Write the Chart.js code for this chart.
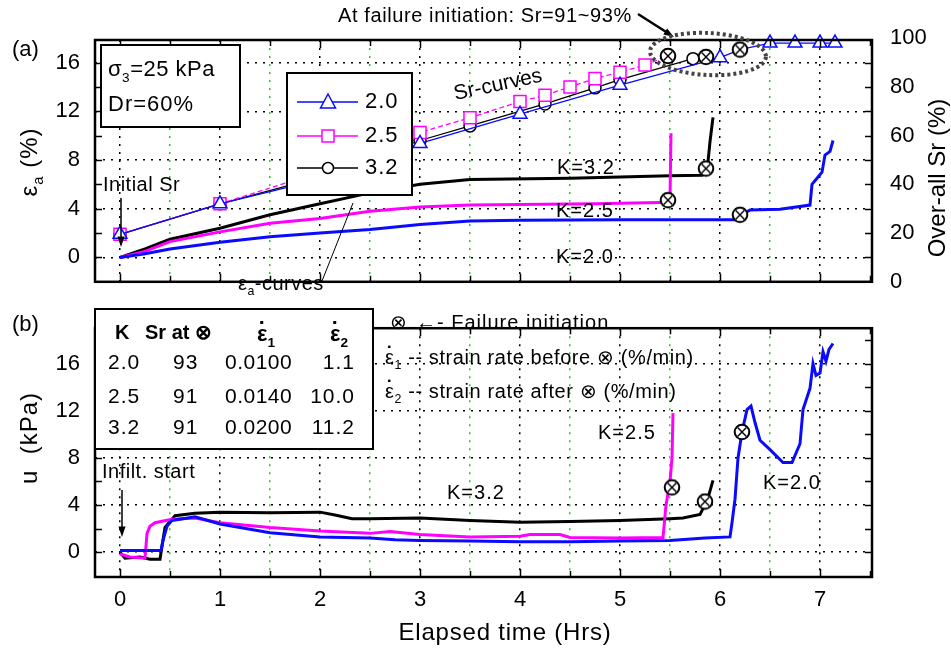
<!DOCTYPE html>
<html>
<head>
<meta charset="utf-8">
<script src="https://cdn.jsdelivr.net/npm/chart.js@4.4.1/dist/chart.umd.min.js"></script>
<style>
  html, body { margin: 0; padding: 0; background: #fff; }
  #wrap { position: relative; width: 951px; height: 653px; }
  #cb { position: absolute; left: 0; top: 300px; }
  #ca { position: absolute; left: 0; top: 0; }
</style>
</head>
<body>
<div id="wrap">
  <canvas id="cb" width="951" height="353"></canvas>
  <canvas id="ca" width="951" height="310"></canvas>
</div>
<script>
// ---- data (time in hrs) ----
const kLabels = ["2.0", "2.5", "3.2"];

// Sr curves (right axis, %)
const srT_20 = [0, 1, 2, 3, 4, 5, 6, 6.2, 6.5, 6.75, 7.0, 7.15];
const sr_20  = [19.5, 32, 42, 56.8, 68.8, 80.7, 92, 95.3, 98, 98, 98, 98];
const srT_25 = [0, 1, 2, 3, 3.5, 4, 4.25, 4.5, 4.75, 5, 5.25, 5.48, 5.53];
const sr_25  = [19.5, 32, 45, 61.3, 67.3, 74, 76.6, 80, 83.4, 86, 89, 92.7, 94.5];
const srT_32 = [0, 1, 2, 3, 3.5, 4.25, 4.75, 5, 5.73, 5.86];
const sr_32  = [19.5, 32, 43, 58, 64, 73, 79.6, 83, 91.6, 92.3];

// axial strain curves (left axis, %)
const epsT_20 = [0, 0.25, 0.5, 1, 1.5, 2, 2.5, 3, 3.5, 4, 5, 6, 6.18, 6.22, 6.3, 6.6, 6.9, 6.92, 6.97, 7.02, 7.05, 7.1, 7.13];
const eps_20  = [0, 0.3, 0.7, 1.25, 1.7, 2.0, 2.3, 2.7, 3.0, 3.05, 3.1, 3.1, 3.1, 3.5, 3.9, 3.95, 4.3, 6.0, 6.5, 7.0, 8.4, 8.7, 9.6];
const epsT_25 = [0, 0.25, 0.5, 1, 1.5, 2, 2.5, 3, 3.5, 4, 4.75, 5.4, 5.47, 5.5, 5.51];
const eps_25  = [0, 0.5, 1.3, 2.1, 2.8, 3.2, 3.8, 4.15, 4.3, 4.35, 4.4, 4.5, 4.6, 4.8, 10.2];
const epsT_32 = [0, 0.25, 0.5, 1, 1.5, 2, 2.5, 3, 3.5, 4.5, 5, 5.5, 5.82, 5.87, 5.9, 5.93];
const eps_32  = [0, 0.7, 1.5, 2.4, 3.5, 4.4, 5.3, 6.0, 6.4, 6.5, 6.6, 6.7, 6.75, 7.0, 9.5, 11.5];

// pore pressure u (kPa)
const uT_20 = [0, 0.41, 0.43, 0.47, 0.52, 0.6, 0.75, 1.0, 1.5, 2.0, 2.5, 2.75, 3.0, 3.5, 4.0, 4.5, 5.0, 5.5, 5.85, 6.1,
               6.12, 6.15, 6.18, 6.22, 6.27, 6.31, 6.35, 6.4, 6.5, 6.63, 6.72, 6.8, 6.83, 6.9, 6.93, 6.96, 7.0, 7.03, 7.06, 7.09, 7.13];
const u_20  = [0.15, 0.15, 1.0, 2.2, 2.7, 2.8, 3.0, 2.4, 1.65, 1.3, 1.2, 1.05, 1.0, 0.95, 0.9, 0.9, 0.95, 1.0, 1.2, 1.3,
               2.5, 4.5, 8.0, 10.2, 12.1, 12.4, 11.0, 9.5, 8.7, 7.6, 7.6, 9.2, 12.1, 13.9, 16.0, 15.0, 15.2, 17.0, 16.2, 17.2, 17.7];
const uT_25 = [0, 0.1, 0.25, 0.27, 0.3, 0.35, 0.52, 0.75, 1.0, 1.5, 2.0, 2.5, 2.7, 3.0, 3.5, 4.0, 4.1, 4.4, 4.5, 5.0, 5.43, 5.46, 5.5, 5.52, 5.53];
const u_25  = [-0.15, -0.4, -0.5, 1.6, 2.2, 2.5, 2.8, 2.9, 2.5, 2.1, 1.8, 1.6, 1.75, 1.5, 1.3, 1.35, 1.5, 1.5, 1.25, 1.2, 1.25, 4.0, 6.0, 8.0, 11.8];
const uT_32 = [0, 0.05, 0.2, 0.3, 0.4, 0.42, 0.45, 0.55, 0.75, 1.0, 1.5, 2.0, 2.15, 2.32, 2.5, 3.0, 3.5, 4.0, 4.5, 5.0, 5.5, 5.63, 5.8, 5.83, 5.87, 5.93];
const u_32  = [0, -0.5, -0.4, -0.6, -0.6, 0.5, 2.1, 3.1, 3.3, 3.4, 3.35, 3.4, 3.15, 2.85, 2.85, 2.9, 2.7, 2.55, 2.6, 2.7, 2.85, 2.9, 3.2, 3.7, 4.3, 6.1];

// failure initiation points (K = 2.0, 2.5, 3.2)
const failT_a = [6.2, 5.48, 5.86];
const failSr  = [95.3, 92.7, 92.3];
const failEps = [3.5, 4.7, 7.3];
const failT_u = [6.22, 5.52, 5.85];
const failU   = [10.2, 5.5, 4.3];

// table in panel (b)
const srAtFail   = ["93", "91", "91"];
const rateBefore = ["0.0100", "0.0140", "0.0200"];
const rateAfter  = ["1.1", "10.0", "11.2"];

// ticks
const timeTicks = [0, 0.5, 1, 1.5, 2, 2.5, 3, 3.5, 4, 4.5, 5, 5.5, 6, 6.5, 7, 7.5];
const epsTicks = [0, 4, 8, 12, 16];
const srTicks = [0, 20, 40, 60, 80, 100];
const uTicks = [0, 4, 8, 12, 16];
const epsMinor = [0, 2, 4, 6, 8, 10, 12, 14, 16];
const uMinor = [0, 2, 4, 6, 8, 10, 12, 14, 16, 18];

// ---- helpers ----
const FONT = '"Liberation Sans", Arial, sans-serif';
const BLUE = "#0a0aff", MAG = "#ff00ff", BLK = "#000000";
const colors = [BLUE, MAG, BLK];
const pts = (xs, ys) => xs.map((x, i) => ({ x: x, y: ys[i] }));
const setTicks = vals => s => { s.ticks = vals.map(v => ({ value: v })); };
const gridColor = v => (v > 7.4 ? "rgba(0,0,0,0)" : Number.isInteger(v) ? "#000" : "#1ed01e");

function failMark() {
  const c = document.createElement("canvas");
  c.width = c.height = 18;
  const g = c.getContext("2d");
  g.beginPath(); g.arc(9, 9, 7.3, 0, Math.PI * 2);
  g.fillStyle = "#fff"; g.fill();
  g.lineWidth = 2; g.strokeStyle = "#000"; g.stroke();
  g.beginPath();
  g.moveTo(4.6, 4.6); g.lineTo(13.4, 13.4);
  g.moveTo(13.4, 4.6); g.lineTo(4.6, 13.4);
  g.lineWidth = 1.4; g.stroke();
  return c;
}
const failImg = failMark();

// parts: [text, kind] with kind undefined | "sub" | "dot" (dot above the glyph)
function rich(ctx, parts, x, y, size, o = {}) {
  ctx.save();
  ctx.translate(x, y);
  if (o.rot) ctx.rotate(o.rot);
  ctx.letterSpacing = (o.ls ?? 0) + "px";
  const f = k => (o.bold ? "bold " : "") + (k === "sub" ? size * 0.62 : size) + "px " + FONT;
  let w = 0;
  const ws = parts.map(([t, k]) => { ctx.font = f(k); const m = ctx.measureText(t).width; w += m; return m; });
  let cx = o.align === "center" ? -w / 2 : o.align === "right" ? -w : 0;
  ctx.textBaseline = "middle";
  ctx.fillStyle = o.color || "#000";
  parts.forEach(([t, k], i) => {
    ctx.font = f(k);
    ctx.fillText(t, cx, k === "sub" ? size * 0.38 : 0);
    if (k === "dot") {
      const d = o.bold ? 3 : 2.4;
      ctx.fillRect(cx + ws[i] / 2 - d / 2 - 0.5, -size * 0.5 - d, d, d);
    }
    cx += ws[i];
  });
  ctx.restore();
}
const txt = (ctx, s, x, y, size, o = {}) => rich(ctx, [[s]], x, y, size, o);

function arrow(ctx, x1, y1, x2, y2, head = 10, w = 1.5) {
  const a = Math.atan2(y2 - y1, x2 - x1);
  ctx.save();
  ctx.strokeStyle = ctx.fillStyle = "#000";
  ctx.lineWidth = w;
  ctx.beginPath(); ctx.moveTo(x1, y1);
  ctx.lineTo(x2 - head * 0.8 * Math.cos(a), y2 - head * 0.8 * Math.sin(a)); ctx.stroke();
  ctx.beginPath(); ctx.moveTo(x2, y2);
  ctx.lineTo(x2 - head * Math.cos(a - 0.33), y2 - head * Math.sin(a - 0.33));
  ctx.lineTo(x2 - head * Math.cos(a + 0.33), y2 - head * Math.sin(a + 0.33));
  ctx.closePath(); ctx.fill();
  ctx.restore();
}

function box(ctx, x1, y1, x2, y2) {
  ctx.save();
  ctx.fillStyle = "#fff"; ctx.fillRect(x1, y1, x2 - x1, y2 - y1);
  ctx.strokeStyle = "#000"; ctx.lineWidth = 2; ctx.strokeRect(x1, y1, x2 - x1, y2 - y1);
  ctx.restore();
}

function drawFrame(chart, yId, minor) {
  const { ctx, chartArea: a } = chart;
  const xs = chart.scales.x, ys = chart.scales[yId];
  ctx.save();
  ctx.strokeStyle = "#000";
  ctx.lineWidth = 1.5;
  ctx.beginPath();
  timeTicks.forEach(v => {
    const px = Math.round(xs.getPixelForValue(v)) + 0.5;
    const len = Number.isInteger(v) ? 8 : 6;
    ctx.moveTo(px, a.bottom); ctx.lineTo(px, a.bottom - len);
    ctx.moveTo(px, a.top); ctx.lineTo(px, a.top + len);
  });
  minor.forEach(v => {
    const py = Math.round(ys.getPixelForValue(v)) + 0.5;
    ctx.moveTo(a.left, py); ctx.lineTo(a.left + 7, py);
    ctx.moveTo(a.right, py); ctx.lineTo(a.right - 7, py);
  });
  ctx.stroke();
  ctx.lineWidth = 2.5;
  ctx.strokeRect(a.left, a.top, a.right - a.left, a.bottom - a.top);
  ctx.restore();
}

function legendMark(ctx, kind, x, y, color) {
  ctx.save();
  ctx.strokeStyle = color; ctx.fillStyle = "#fff"; ctx.lineWidth = 1.5;
  ctx.beginPath();
  if (kind === 0) { ctx.moveTo(x, y - 8); ctx.lineTo(x + 7.5, y + 6); ctx.lineTo(x - 7.5, y + 6); ctx.closePath(); }
  else if (kind === 1) { ctx.rect(x - 6, y - 6, 12, 12); }
  else { ctx.arc(x, y, 5.5, 0, Math.PI * 2); }
  ctx.fill(); ctx.stroke();
  ctx.restore();
}

const annotateA = {
  id: "annotateA",
  afterDatasetsDraw(chart) {
    const ctx = chart.ctx;
    drawFrame(chart, "y", epsMinor);

    txt(ctx, "(a)", 12, 50, 22);
    txt(ctx, "At failure initiation: Sr=91~93%", 338, 16, 20, { ls: 0.6 });
    arrow(ctx, 638, 14, 674, 37, 11, 2.5);

    // dashed ellipse round the failure points
    ctx.save();
    ctx.strokeStyle = "#444"; ctx.lineWidth = 4; ctx.setLineDash([3, 3]);
    ctx.beginPath(); ctx.ellipse(708, 54, 58, 21, 0.05, 0, Math.PI * 2); ctx.stroke();
    ctx.restore();

    // parameter box
    box(ctx, 101, 45, 240, 127);
    rich(ctx, [["σ"], ["3", "sub"], ["=25 kPa"]], 108, 70, 22, { ls: 0.5 });
    txt(ctx, "Dr=60%", 108, 105, 22, { ls: 1 });

    // legend
    box(ctx, 287, 73, 412, 195);
    [102, 136, 168].forEach((y, i) => {
      ctx.save(); ctx.strokeStyle = colors[i]; ctx.lineWidth = 1.5;
      ctx.beginPath(); ctx.moveTo(297, y); ctx.lineTo(358, y); ctx.stroke(); ctx.restore();
      legendMark(ctx, i, 328, y, colors[i]);
      txt(ctx, kLabels[i], 365, y, 22, { ls: 1 });
    });

    txt(ctx, "Sr-curves", 498, 85, 21, { align: "center", rot: -0.21 });
    txt(ctx, "K=3.2", 557, 168, 20, { ls: 1 });
    txt(ctx, "K=2.5", 556, 211, 20, { ls: 1 });
    txt(ctx, "K=2.0", 556, 257, 20, { ls: 1 });

    rich(ctx, [["ε"], ["a", "sub"], ["-curves"]], 238, 284, 20, { ls: 0.5 });
    ctx.save(); ctx.lineWidth = 1; ctx.strokeStyle = "#000";
    ctx.beginPath(); ctx.moveTo(322, 281); ctx.lineTo(353, 203); ctx.stroke(); ctx.restore();

    txt(ctx, "Initial Sr", 103, 185, 20, { ls: 0.5 });
    arrow(ctx, 121, 198, 121, 247, 11, 1.5);

    rich(ctx, [["ε"], ["a", "sub"], [" (%)"]], 30, 162, 24, { align: "center", rot: -Math.PI / 2, ls: 1 });
    txt(ctx, "Over-all Sr (%)", 938, 178, 24, { align: "center", rot: -Math.PI / 2 });
  }
};

const annotateB = {
  id: "annotateB",
  afterDatasetsDraw(chart) {
    const ctx = chart.ctx;
    drawFrame(chart, "y", uMinor);
    txt(ctx, "(b)", 12, 25, 22);

    // table
    box(ctx, 95, 9, 373, 149);
    txt(ctx, "K", 115, 33, 20, { bold: true });
    txt(ctx, "Sr at ⊗", 145, 33, 20, { bold: true });
    rich(ctx, [["ε", "dot"], ["1", "sub"]], 257, 35, 22, { bold: true });
    rich(ctx, [["ε", "dot"], ["2", "sub"]], 330, 35, 22, { bold: true });
    [63, 97, 128].forEach((y, i) => {
      txt(ctx, kLabels[i], 108, y, 21, { ls: 1 });
      txt(ctx, srAtFail[i], 173, y, 21, { ls: 1 });
      txt(ctx, rateBefore[i], 225, y, 21, { ls: 0.5 });
      txt(ctx, rateAfter[i], 355, y, 21, { ls: 1, align: "right" });
    });

    txt(ctx, "⊗", 390, 23, 20);
    txt(ctx, "←- Failure initiation", 416, 23, 20, { ls: 1 });
    rich(ctx, [["ε", "dot"], ["1", "sub"], [" -- strain rate before ⊗ (%/min)"]], 385, 58, 20, { ls: 0.6 });
    rich(ctx, [["ε", "dot"], ["2", "sub"], [" -- strain rate after ⊗ (%/min)"]], 385, 92, 20, { ls: 0.6 });

    txt(ctx, "Infilt. start", 102, 172, 20, { ls: 0.5 });
    arrow(ctx, 122, 190, 122, 237, 11, 1.5);

    txt(ctx, "K=3.2", 447, 193, 20, { ls: 1 });
    txt(ctx, "K=2.5", 598, 133, 20, { ls: 1 });
    txt(ctx, "K=2.0", 763, 183, 20, { ls: 1 });

    txt(ctx, "u  (kPa)", 30, 138, 24, { align: "center", rot: -Math.PI / 2, ls: 1 });
    txt(ctx, "Elapsed time (Hrs)", 505, 333, 24, { align: "center", ls: 0.8 });
  }
};

const tickFont = { family: FONT, size: 22 };
const common = {
  responsive: false,
  animation: false,
  events: [],
  plugins: { legend: { display: false }, tooltip: { enabled: false } }
};
const xScale = (showLabels) => ({
  type: "linear", min: -0.25, max: 7.52,
  afterBuildTicks: setTicks(timeTicks),
  afterFit: s => { s.height = showLabels ? 76 : 0; },
  ticks: {
    display: showLabels, font: tickFont, color: "#000", padding: 10, maxRotation: 0, autoSkip: false,
    callback: v => (Number.isInteger(v) ? String(v) : "")
  },
  grid: { drawTicks: false, lineWidth: 1.5, color: c => gridColor(c.tick ? c.tick.value : 0) },
  border: { display: false, dash: [2, 6] }
});
const lineSet = (xs, ys, color, axis, w) => ({
  data: pts(xs, ys), yAxisID: axis, borderColor: color, borderWidth: w,
  pointRadius: 0, fill: false, tension: 0
});
const srSet = (k, xs, ys, style, r, dash) => ({
  data: pts(xs, ys), yAxisID: "sr", borderColor: colors[k], borderWidth: 1.3,
  borderDash: dash, fill: false, tension: 0, clip: false,
  pointStyle: style, pointBackgroundColor: "#fff", pointBorderColor: colors[k], pointBorderWidth: 1.5,
  pointRadius: c => {
    const t = xs[c.dataIndex];
    return (t === failT_a[k] || (k > 0 && t > failT_a[k])) ? 0 : r;
  }
});
const failSet = (xs, ys, axis) => ({
  data: pts(xs, ys), yAxisID: axis, showLine: false, clip: false,
  pointStyle: failImg, pointRadius: 9
});

new Chart(document.getElementById("ca"), {
  type: "line",
  data: {
    datasets: [
      failSet(failT_a, failSr, "sr"),
      failSet(failT_a, failEps, "y"),
      srSet(0, srT_20, sr_20, "triangle", 8, []),
      srSet(1, srT_25, sr_25, "rect", 8.5, [5, 3]),
      srSet(2, srT_32, sr_32, "circle", 6, []),
      lineSet(epsT_20, eps_20, BLUE, "y", 3),
      lineSet(epsT_25, eps_25, MAG, "y", 3),
      lineSet(epsT_32, eps_32, BLK, "y", 3)
    ]
  },
  options: {
    ...common,
    layout: { padding: { top: 40, bottom: 2, left: 0, right: 0 } },
    scales: {
      x: xScale(false),
      y: {
        position: "left", min: -2, max: 17.85,
        afterBuildTicks: setTicks(epsTicks),
        afterFit: s => { s.width = 95; },
        ticks: { font: tickFont, color: "#000", padding: 15 },
        grid: { drawTicks: false, color: "#000", lineWidth: 1.5 },
        border: { display: false, dash: [2, 6] }
      },
      sr: {
        position: "right", min: 0, max: 99.25,
        afterBuildTicks: setTicks(srTicks),
        afterFit: s => { s.width = 79; },
        ticks: { font: tickFont, color: "#000", padding: 10 },
        grid: { display: false },
        border: { display: false }
      }
    }
  },
  plugins: [annotateA]
});

new Chart(document.getElementById("cb"), {
  type: "line",
  data: {
    datasets: [
      failSet(failT_u, failU, "y"),
      lineSet(uT_20, u_20, BLUE, "y", 3),
      lineSet(uT_25, u_25, MAG, "y", 3),
      lineSet(uT_32, u_32, BLK, "y", 3)
    ]
  },
  options: {
    ...common,
    layout: { padding: { top: 9, bottom: 0, left: 0, right: 79 } },
    scales: {
      x: xScale(true),
      y: {
        position: "left", min: -2.1, max: 19,
        afterBuildTicks: setTicks(uTicks),
        afterFit: s => { s.width = 95; },
        ticks: { font: tickFont, color: "#000", padding: 15 },
        grid: { drawTicks: false, color: "#000", lineWidth: 1.5 },
        border: { display: false, dash: [2, 6] }
      }
    }
  },
  plugins: [annotateB]
});
</script>
</body>
</html>
